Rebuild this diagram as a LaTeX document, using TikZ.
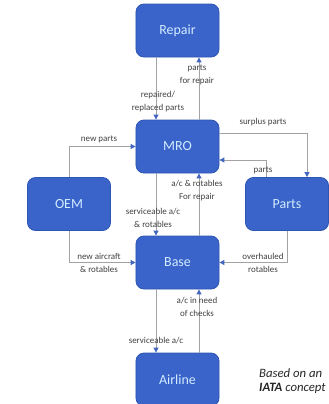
\documentclass[tikz,border=0pt]{standalone}
\usepackage{fontspec}
\setmainfont{Carlito}
\usetikzlibrary{arrows.meta}
\definecolor{boxfill}{HTML}{3A64C9}
\definecolor{boxdraw}{HTML}{2D55B2}
\definecolor{boxtext}{HTML}{D2ECFF}
\definecolor{linegray}{HTML}{A3A3A3}
\definecolor{tipblue}{HTML}{4466BE}
\tikzset{
  block/.style={draw=boxdraw, line width=0.8bp, fill=boxfill, rounded corners=8bp,
    minimum width=83bp, minimum height=53bp, inner sep=0pt,
    text=boxtext, font=\fontsize{14}{16}\selectfont},
  flow/.style={draw=linegray, line width=0.9bp,
    -{Triangle[width=5bp,length=5bp,color=tipblue,fill=tipblue]}},
  lbl/.style={font=\fontsize{9}{13}\selectfont, text=black!75, align=center, inner sep=0pt},
}
\begin{document}
\begin{tikzpicture}[x=1bp,y=-1bp]
\useasboundingbox (0,0) rectangle (329,404);
\node[block] (repair) at (177.5,30.5) {Repair};
\node[block] (mro) at (177.5,146.5) {MRO};
\node[block] (oem) at (69,204) {OEM};
\node[block] (parts) at (287,204) {Parts};
\node[block] (base) at (177.5,262.5) {Base};
\node[block] (airline) at (177.5,379.5) {Airline};

% Repair <-> MRO
\draw[flow] ([xshift=-21.5bp]repair.south) -- ([xshift=-21.5bp]mro.north);
\draw[flow] ([xshift=21.5bp]mro.north) -- ([xshift=21.5bp]repair.south);
% MRO <-> Base
\draw[flow] ([xshift=-21.5bp]mro.south) -- ([xshift=-21.5bp]base.north);
\draw[flow] ([xshift=21.5bp]base.north) -- ([xshift=21.5bp]mro.south);
% Base <-> Airline
\draw[flow] ([xshift=-21.5bp]base.south) -- ([xshift=-21.5bp]airline.north);
\draw[flow] ([xshift=21.5bp]airline.north) -- ([xshift=21.5bp]base.south);
% MRO <-> Parts
\draw[flow] ([yshift=13.5bp]mro.east) -| ([xshift=20bp]parts.north);
\draw[flow] ([xshift=-21bp]parts.north) |- ([yshift=-13.5bp]mro.east);
% OEM
\draw[flow] (oem.north) |- (mro.west);
\draw[flow] (oem.south) |- (base.west);
% Parts -> Base
\draw[flow] (parts.south) |- (base.east);

% labels
\node[lbl] (l1) at (158,101.5) {repaired/\\replaced parts};
\node[lbl] (l2) at (197,74.5) {parts\\for repair};
\node[lbl] (l3) at (263,122) {surplus parts};
\node[lbl] (l4) at (263,170) {parts};
\node[lbl] (l5) at (99,139) {new parts};
\node[lbl] (l6) at (99,262.5) {new aircraft\\\& rotables};
\node[lbl] (l7) at (263,262.5) {overhauled\\rotables};
\node[lbl] (l8) at (153,218) {serviceable a/c\\\& rotables};
\node[lbl] (l9) at (197,191) {a/c \& rotables\\For repair};
\node[lbl] (l10) at (156,341) {serviceable a/c};
\node[lbl] (l11) at (197,306.5) {a/c in need\\of checks};
\node[font=\fontsize{12.8}{14.5}\selectfont\itshape, align=left, anchor=west, inner sep=0pt, text=black!85] (note) at (259,381) {Based on an\\\textbf{IATA} concept};
\end{tikzpicture}
\end{document}
